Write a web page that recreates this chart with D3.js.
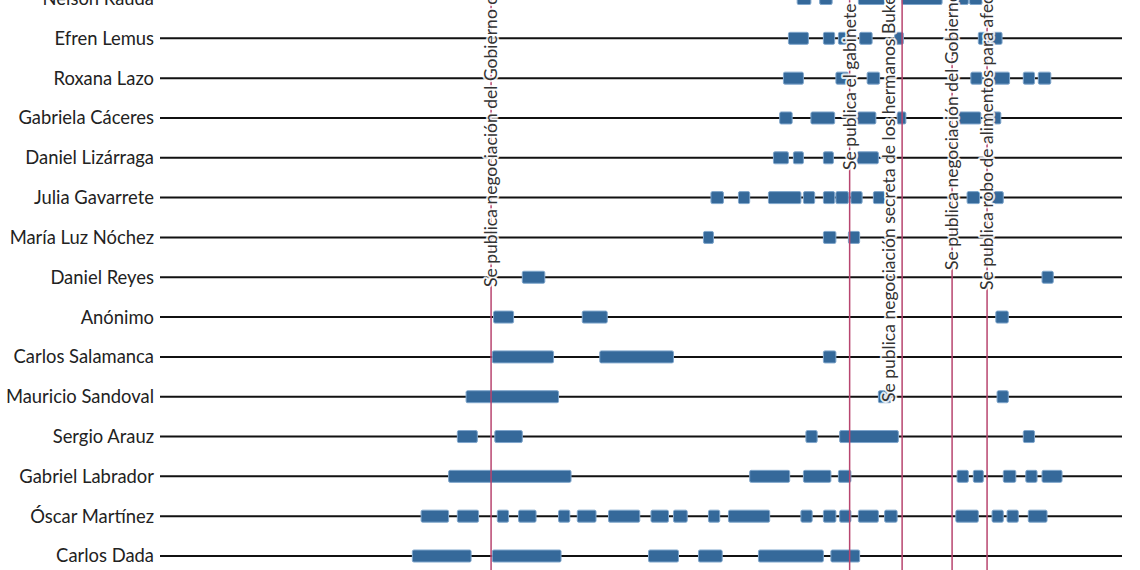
<!DOCTYPE html>
<html>
<head>
<meta charset="utf-8">
<script src="https://cdn.jsdelivr.net/npm/d3@7"></script>
<style>
  html, body { margin: 0; padding: 0; background: #fff; overflow: hidden; }
  svg { display: block; }
</style>
</head>
<body>
<svg id="chart" width="1140" height="570"></svg>
<script>
// Periodistas (de arriba a abajo)
const periodistas = [
  "Nelson Rauda", "Efren Lemus", "Roxana Lazo", "Gabriela Cáceres",
  "Daniel Lizárraga", "Julia Gavarrete", "María Luz Nóchez", "Daniel Reyes",
  "Anónimo", "Carlos Salamanca", "Mauricio Sandoval", "Sergio Arauz",
  "Gabriel Labrador", "Óscar Martínez", "Carlos Dada"
];

// Periodos de infección: [inicio, fin] en días desde 2020-06-01
const nelsonRauda = [[337,348],[355,365],[386,407],[421,453],[466,474],[475,485]];
const efrenLemus = [[330,346],[358,367],[370,378],[387,397],[415,422],[482,491],[492,501]];
const roxanaLazo = [[326,342],[368,378],[393,403],[476,485],[494,507],[518,527],[530,540]];
const gabrielaCaceres = [[323,333],[348,367],[385,400],[417,424],[466,484],[493,500]];
const danielLizarraga = [[318,330],[334,342],[358,366],[385,402]];
const juliaGavarrete = [[268,278],[290,299],[314,340],[342,351],[358,367],[368,378],[380,389],[398,407],[473,483],[493,502]];
const mariaLuzNochez = [[262,270],[358,368],[378,387]];
const danielReyes = [[117,135],[533,542]];
const anonimo = [[94,110],[165,185],[496,506]];
const carlosSalamanca = [[93,142],[179,238],[358,368]];
const mauricioSandoval = [[72,146],[402,412],[497,506]];
const sergioArauz = [[65,81],[95,117],[344,353],[371,418],[518,527]];
const gabrielLabrador = [[58,156],[299,331],[342,364],[370,380],[465,474],[478,486],[502,512],[520,529],[533,549]];
const oscarMartinez = [[36,58],[65,82],[97,106],[114,128],[146,155],[161,176],[186,211],[220,234],[238,249],[266,275],[282,315],[340,349],[358,368],[371,380],[386,402],[407,417],[464,482],[493,502],[505,514],[522,537]];
const carlosDada = [[29,76],[93,148],[218,242],[258,277],[306,358],[364,387]];

const periodos = [
  nelsonRauda, efrenLemus, roxanaLazo, gabrielaCaceres, danielLizarraga,
  juliaGavarrete, mariaLuzNochez, danielReyes, anonimo, carlosSalamanca,
  mauricioSandoval, sergioArauz, gabrielLabrador, oscarMartinez, carlosDada
];

// Publicaciones (días desde 2020-06-01)
const eventoDias = [92, 379, 421, 461, 489];
const eventoTextos = [
  "Se publica negociación del Gobierno con pandillas",
  "Se publica el gabinete de seguridad y las pandillas",
  "Se publica negociación secreta de los hermanos Bukele",
  "Se publica negociación del Gobierno con la MS-13",
  "Se publica robo de alimentos para afectados por la pandemia"
];

// Layout (not data)
const eventoLabelLayout = [
  { y: 287, dx: 0 },
  { y: 170, dx: 0 },
  { y: 402, dx: -13 },
  { y: 270, dx: 0 },
  { y: 290, dx: 0 }
];

const svg = d3.select("#chart");
const W = 1140, H = 570;
const x = d3.scaleLinear().domain([-173, 597]).range([160, 1122]);
const y = d3.scalePoint().domain(periodistas).range([-1.5, 556]);

const barH = 12;
const FONT = "Lato, 'Source Sans Pro', 'Noto Sans', sans-serif";

// Row lines
svg.append("g").selectAll("line").data(periodistas).join("line")
  .attr("x1", x.range()[0]).attr("x2", x.range()[1])
  .attr("y1", d => y(d)).attr("y2", d => y(d))
  .attr("stroke", "#111").attr("stroke-width", 2);

// Row labels
svg.append("g").selectAll("text").data(periodistas).join("text")
  .attr("x", 154).attr("y", d => y(d)).attr("dy", "0.35em")
  .attr("text-anchor", "end")
  .attr("font-family", FONT).attr("font-size", 18.4)
  .attr("fill", "#222")
  .text(d => d);

// Bars
const table = [];
periodistas.forEach((p, i) => periodos[i].forEach(([a, b]) => table.push({ p, a, b })));
svg.append("g").selectAll("rect").data(table).join("rect")
  .attr("x", d => x(d.a)).attr("width", d => x(d.b) - x(d.a))
  .attr("y", d => y(d.p) - barH / 2).attr("height", barH)
  .attr("rx", 1.5)
  .attr("fill", "#35699a")
  .attr("stroke", "#7fa6cc").attr("stroke-width", 1);

// Event lines
svg.append("g").selectAll("line").data(eventoDias).join("line")
  .attr("x1", d => x(d)).attr("x2", d => x(d))
  .attr("y1", -10).attr("y2", H + 10)
  .attr("stroke", "#b8456f").attr("stroke-width", 1.5);

// Event labels
svg.append("g").selectAll("text").data(eventoDias).join("text")
  .attr("transform", (d, i) => `translate(${x(d) + eventoLabelLayout[i].dx},${eventoLabelLayout[i].y}) rotate(-90)`)
  .attr("dy", "0.35em")
  .attr("text-anchor", "start")
  .attr("font-family", FONT).attr("font-size", 17.5)
  .attr("fill", "#333")
  .attr("stroke", "rgba(255,255,255,0.85)").attr("stroke-width", 4)
  .attr("paint-order", "stroke")
  .attr("stroke-linejoin", "round")
  .text((d, i) => eventoTextos[i]);
</script>
</body>
</html>
